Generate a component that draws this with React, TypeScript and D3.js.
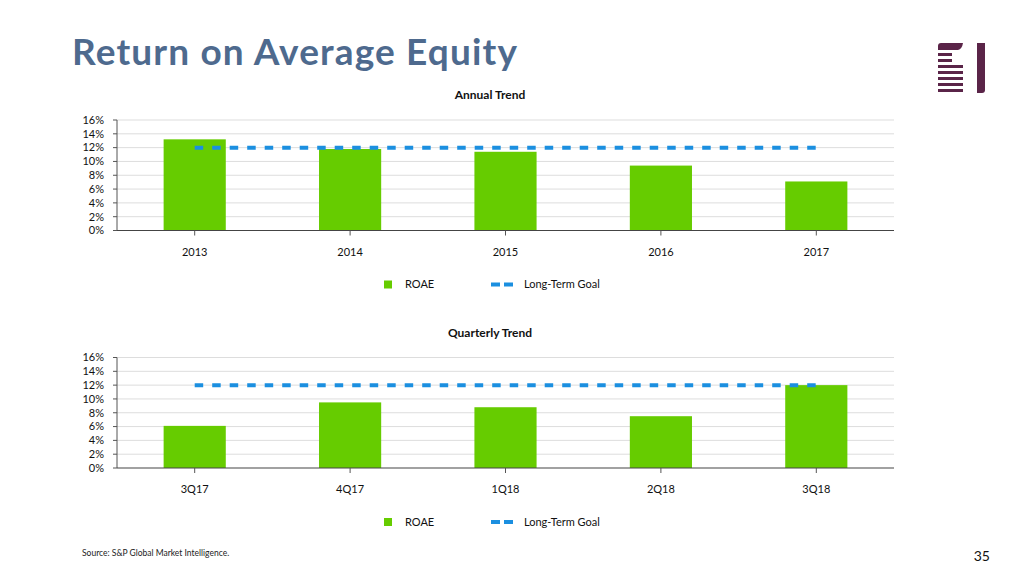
import React from "react";
import * as d3 from "d3";

const annualCategories = ["2013", "2014", "2015", "2016", "2017"];
const annualROAE = [13.2, 11.8, 11.4, 9.4, 7.1];
const annualGoal = [12, 12, 12, 12, 12];

const quarterlyCategories = ["3Q17", "4Q17", "1Q18", "2Q18", "3Q18"];
const quarterlyROAE = [6.1, 9.5, 8.8, 7.5, 12.0];
const quarterlyGoal = [12, 12, 12, 12, 12];

const yTicks = [0, 2, 4, 6, 8, 10, 12, 14, 16];

const GREEN = "#66CC00";
const BLUE = "#1B8FE0";
const FONT = "Lato, 'Open Sans', sans-serif";

function Panel({ title, categories, values, goal, plotTop }: { title: string; categories: string[]; values: number[]; goal: number[]; plotTop: number }) {
  const left = 117;
  const right = 894;
  const plotBottom = plotTop + 110.5;
  const x = d3.scaleBand<string>().domain(categories).range([left, right]).paddingInner(0.6).paddingOuter(0.3);
  const xc = d3.scalePoint<string>().domain(categories).range([left, right]).padding(0.5);
  const y = d3.scaleLinear().domain([0, 16]).range([plotBottom, plotTop]);
  const line = d3.line<number>().x((_, i) => xc(categories[i]) as number).y((d) => y(d));
  const legendY = plotBottom + 54;
  return (
    <g>
      <text x={490} y={plotTop - 21} textAnchor="middle" fontFamily={FONT} fontWeight={700} fontSize={12} fill="#111">{title}</text>
      {yTicks.map((t) => (
        <g key={t}>
          {t > 0 && <line x1={left} x2={right} y1={y(t)} y2={y(t)} stroke="#DDDDDD" strokeWidth={1} />}
          <line x1={left - 4} x2={left} y1={y(t)} y2={y(t)} stroke="#555" strokeWidth={1} />
          <text x={104} y={y(t)} dy="0.35em" textAnchor="end" fontFamily={FONT} fontSize={11} fill="#111">{t}%</text>
        </g>
      ))}
      {values.map((v, i) => (
        <rect key={i} x={x(categories[i])} width={x.bandwidth()} y={y(v)} height={y(0) - y(v)} fill={GREEN} />
      ))}
      <path d={line(goal) || ""} fill="none" stroke={BLUE} strokeWidth={4} strokeDasharray="8.5 9" />
      <line x1={left} x2={left} y1={plotTop} y2={plotBottom} stroke="#555" strokeWidth={1} />
      <line x1={left} x2={right} y1={plotBottom} y2={plotBottom} stroke="#444" strokeWidth={1.2} />
      {categories.map((c) => (
        <g key={c}>
          <line x1={xc(c)} x2={xc(c)} y1={plotBottom} y2={plotBottom + 5} stroke="#555" strokeWidth={1} />
          <text x={xc(c)} y={plotBottom + 25} textAnchor="middle" fontFamily={FONT} fontSize={11} fill="#111">{c}</text>
        </g>
      ))}
      <rect x={384} y={legendY - 4} width={8} height={8} fill={GREEN} />
      <text x={405} y={legendY} dy="0.35em" fontFamily={FONT} fontSize={11} fill="#111">ROAE</text>
      <line x1={491} x2={513} y1={legendY} y2={legendY} stroke={BLUE} strokeWidth={4} strokeDasharray="9 4" />
      <text x={524} y={legendY} dy="0.35em" fontFamily={FONT} fontSize={11} fill="#111">Long-Term Goal</text>
    </g>
  );
}

function Logo() {
  const c = "#5A2448";
  const stripes = [56, 62, 68, 74, 80, 86];
  return (
    <g fill={c}>
      <path d="M938 50 L938 46 Q938 43 941 43 L963 43 Q962 49 958 50 Z" />
      {stripes.map((sy, i) => (
        <rect key={sy} x={938} y={sy - 3} width={i < 2 ? 14 : 25} height={3} />
      ))}
      <rect x={938} y={89} width={25} height={3} />
      <path d="M977 43 L985 43 L985 90 Q985 93 982 93 L977 93 Z" />
    </g>
  );
}

export default function App() {
  return (
    <svg width={1024} height={576} style={{ position: "absolute", left: 0, top: 0, background: "#fff" }}>
      <rect width={1024} height={576} fill="#fff" />
      <text x={72} y={65} fontFamily={FONT} fontWeight={700} fontSize={37} fill="#4E6A8E" textLength={445} lengthAdjust="spacing">Return on Average Equity</text>
      <Logo />
      <Panel title="Annual Trend" categories={annualCategories} values={annualROAE} goal={annualGoal} plotTop={120} />
      <Panel title="Quarterly Trend" categories={quarterlyCategories} values={quarterlyROAE} goal={quarterlyGoal} plotTop={357.5} />
      <text x={82} y={556} fontFamily={FONT} fontSize={8.5} fill="#222">Source: S&amp;P Global Market Intelligence.</text>
      <text x={990} y={561} textAnchor="end" fontFamily={FONT} fontSize={14} fill="#111">35</text>
    </svg>
  );
}
